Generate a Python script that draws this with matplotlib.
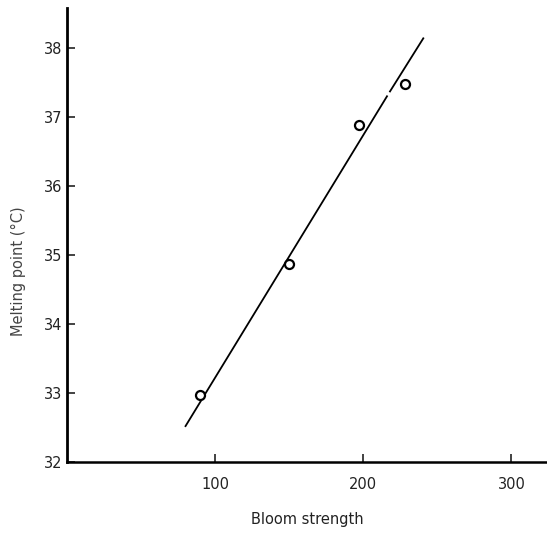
import matplotlib.pyplot as plt

# data
bloom = [90, 150, 197, 228]
melting = [32.97, 34.87, 36.88, 37.48]

# fitted line (drawn with a small break near the top, as in the original)
line_a_x = [80, 216]
line_a_y = [32.52, 37.30]
line_b_x = [218, 240.5]
line_b_y = [37.37, 38.14]

x_ticks = [100, 200, 300]
y_ticks = [32, 33, 34, 35, 36, 37, 38]

fig = plt.figure(figsize=(5.47, 5.49), dpi=100)
ax = fig.add_axes([0.1225, 0.1585, 0.8775, 0.827])

ax.plot(line_a_x, line_a_y, color='black', lw=1.3)
ax.plot(line_b_x, line_b_y, color='black', lw=1.3)
ax.plot(bloom, melting, 'o', ms=6.5, mfc='white', mec='black', mew=1.6)

ax.set_xlim(0, 324)
ax.set_ylim(32, 38.58)
ax.set_xticks(x_ticks)
ax.set_yticks(y_ticks)
ax.tick_params(direction='in', length=6, width=1.2, labelsize=10.5, colors='#222222')
ax.tick_params(axis='x', pad=11)

for side in ['top', 'right']:
    ax.spines[side].set_visible(False)
ax.spines['left'].set_linewidth(2)
ax.spines['bottom'].set_linewidth(1.8)

ax.set_xlabel('Bloom strength', fontsize=10.5, color='#222222', labelpad=14)
ax.set_ylabel('Melting point (°C)', fontsize=10.5, color='#444444')
ax.yaxis.set_label_coords(-0.085, 0.42)

fig.savefig('out.png', dpi=100)
